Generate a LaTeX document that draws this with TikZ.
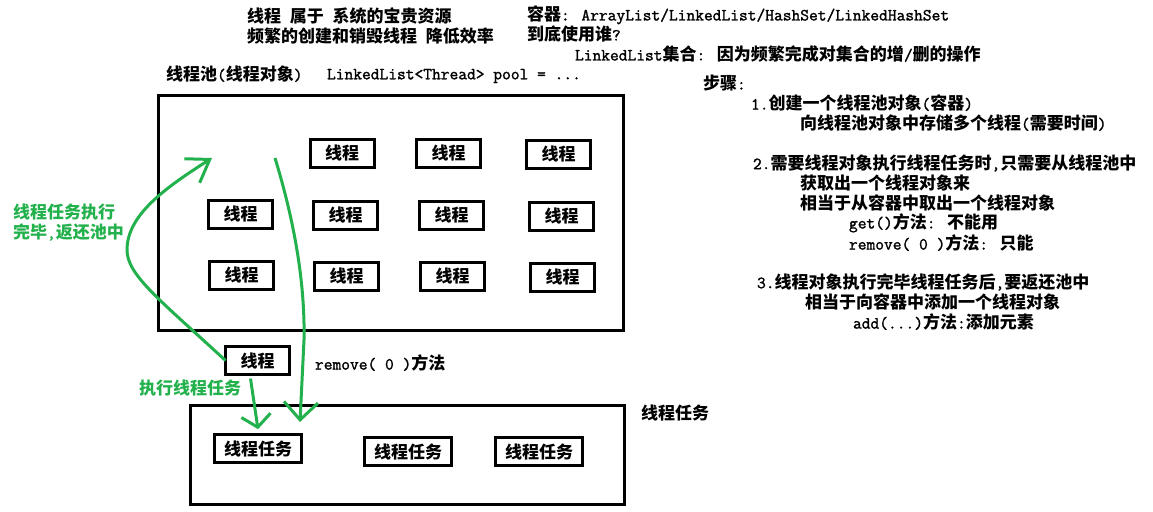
\documentclass[tikz,border=0pt]{standalone}
\usepackage{fontspec}
\setmainfont{Latin Modern Mono}
\newfontfamily\cjk{Noto Sans CJK SC}
\newfontfamily\lat{Latin Modern Mono}[FakeBold=1.5]
\newcommand\zh[1]{{\cjk\bfseries #1}}
\usetikzlibrary{arrows.meta}
\definecolor{pgreen}{HTML}{22B14C}
\begin{document}
\begin{tikzpicture}[x=0.75pt,y=-0.75pt,
  every node/.style={inner sep=0pt, outer sep=0pt},
  basefont/.style={font=\lat\fontsize{12.75}{15}\selectfont},
  txt/.style={basefont, anchor=west},
  gtxt/.style={txt, text=pgreen},
  thr/.style={basefont, draw, line width=2.25pt, minimum width=48pt, minimum height=21pt},
  tsk/.style={thr, minimum width=65.25pt},
  frame/.style={draw, line width=2.25pt},
  garrow/.style={draw=pgreen, line width=2.25pt}
]
\useasboundingbox (0,0) rectangle (1153,511);

% frames
\node[frame, minimum width=348.75pt, minimum height=176.25pt] (pool) at (391,213) {};
\node[frame, minimum width=325.5pt, minimum height=74.25pt] (area) at (407.5,455) {};

% thread boxes in pool
\node[thr] (a1) at (342,153.5) {\zh{线程}};
\node[thr] (a2) at (448.5,153.5) {\zh{线程}};
\node[thr] (a3) at (558.5,154.5) {\zh{线程}};
\node[thr] (b1) at (240.5,214.5) {\zh{线程}};
\node[thr] (b2) at (345.5,215.5) {\zh{线程}};
\node[thr] (b3) at (451.5,215.5) {\zh{线程}};
\node[thr] (b4) at (561.5,216.5) {\zh{线程}};
\node[thr] (c1) at (241.5,275.5) {\zh{线程}};
\node[thr] (c2) at (346.5,276.5) {\zh{线程}};
\node[thr] (c3) at (452.5,276.5) {\zh{线程}};
\node[thr] (c4) at (562.5,277.5) {\zh{线程}};
\node[thr] (t) at (257.5,360.5) {\zh{线程}};

% task boxes
\node[tsk] (tk1) at (258,448.5) {\zh{线程任务}};
\node[tsk] (tk2) at (408,451.5) {\zh{线程任务}};
\node[tsk] (tk3) at (539,451.5) {\zh{线程任务}};

% texts
\node[txt] (h1) at (247,16) {\zh{线程} \zh{属于} \zh{系统的宝贵资源}};
\node[txt] (h2) at (247,36) {\zh{频繁的创建和销毁线程} \zh{降低效率}};
\node[txt] (h3) at (527,15) {\zh{容器}: ArrayList/LinkedList/HashSet/LinkedHashSet};
\node[txt] (h4) at (527,34) {\zh{到底使用谁}?};
\node[txt] (h5) at (575,54) {LinkedList\zh{集合}: \zh{因为频繁完成对集合的增}/\zh{删的操作}};
\node[txt] (p1) at (166,74) {\zh{线程池}(\zh{线程对象})};
\node[txt] (p2) at (327,76) {LinkedList<Thread> pool = ...};

\node[txt] (s0) at (703,83) {\zh{步骤}:};
\node[txt] (s1) at (751,103) {1.\zh{创建一个线程池对象}(\zh{容器})};
\node[txt] (s2) at (800,123) {\zh{向线程池对象中存储多个线程}(\zh{需要时间})};
\node[txt] (s3) at (753,163) {2.\zh{需要线程对象执行线程任务时},\zh{只需要从线程池中}};
\node[txt] (s4) at (800,183) {\zh{获取出一个线程对象来}};
\node[txt] (s5) at (800,203) {\zh{相当于从容器中取出一个线程对象}};
\node[txt] (s6) at (849,223) {get()\zh{方法}: \zh{不能用}};
\node[txt] (s7) at (849,243) {remove( 0 )\zh{方法}: \zh{只能}};
\node[txt] (s8) at (757,282) {3.\zh{线程对象执行完毕线程任务后},\zh{要返还池中}};
\node[txt] (s9) at (805,302) {\zh{相当于向容器中添加一个线程对象}};
\node[txt] (s10) at (853,322) {add(...)\zh{方法}:\zh{添加元素}};

\node[txt] (rm) at (315,363) {remove( 0 )\zh{方法}};
\node[txt] (tl) at (641,413) {\zh{线程任务}};
\node[gtxt] (g1) at (13,212) {\zh{线程任务执行}};
\node[gtxt] (g2) at (13,232) {\zh{完毕},\zh{返还池中}};
\node[gtxt] (g3) at (139,388) {\zh{执行线程任务}};

% arrows
\coordinate (ret) at (212,158);
\coordinate (rs) at (275,158);
\coordinate (re) at (300,422);
\draw[garrow, -{Straight Barb[length=15.8pt, width=21.4pt]}]
  (t.west) .. controls (160,300) and (127,275) .. (127,250)
  .. controls (127,215) and (165,188) .. (ret);
\draw[garrow, -{Straight Barb[length=13.2pt, width=25.5pt]}]
  (rs) .. controls (297,230) and (305,290) .. (304,340) -- (re);
\draw[garrow, -{Straight Barb[length=9pt, width=22pt]}]
  ([xshift=-5.25pt, yshift=-3pt]t.south) -- ([yshift=4pt]tk1.north);
\end{tikzpicture}
\end{document}
